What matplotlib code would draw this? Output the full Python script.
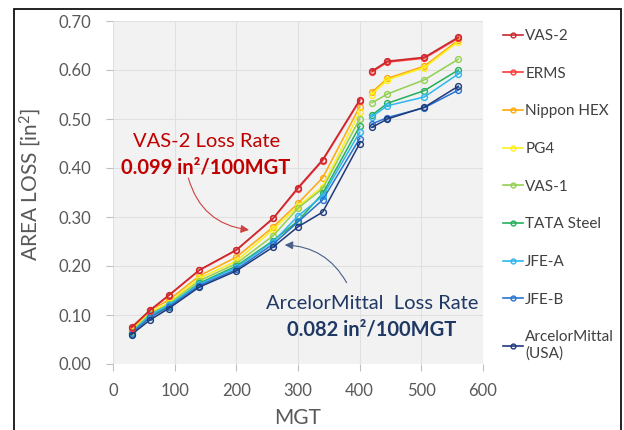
import matplotlib
matplotlib.use("Agg")
import matplotlib.pyplot as plt
from matplotlib.patches import Rectangle

plt.rcParams['font.family'] = ['Lato', 'DejaVu Sans']
plt.rcParams['mathtext.fontset'] = 'custom'
plt.rcParams['mathtext.rm'] = 'Lato'
plt.rcParams['mathtext.default'] = 'regular'

mgt = [30, 60, 90, 140, 200, 260, 300, 340, 400, 420, 445, 505, 560]
break_idx = 9  # lines are interrupted between 400 and 420 MGT

series_names = ['VAS-2', 'ERMS', 'Nippon HEX', 'PG4', 'VAS-1', 'TATA Steel',
                'JFE-A', 'JFE-B', 'ArcelorMittal\n(USA)']
vas2 = [0.075, 0.110, 0.140, 0.192, 0.233, 0.298, 0.360, 0.417, 0.539, 0.598, 0.618, 0.626, 0.667]
erms = [0.074, 0.109, 0.139, 0.191, 0.232, 0.297, 0.358, 0.415, 0.537, 0.596, 0.616, 0.624, 0.665]
nippon = [0.070, 0.110, 0.130, 0.180, 0.218, 0.280, 0.328, 0.380, 0.525, 0.555, 0.583, 0.608, 0.661]
pg4 = [0.068, 0.105, 0.125, 0.175, 0.210, 0.275, 0.322, 0.362, 0.514, 0.550, 0.580, 0.605, 0.658]
vas1 = [0.066, 0.102, 0.122, 0.170, 0.205, 0.262, 0.318, 0.358, 0.500, 0.533, 0.551, 0.580, 0.622]
tata = [0.064, 0.098, 0.118, 0.165, 0.200, 0.252, 0.292, 0.348, 0.485, 0.508, 0.532, 0.558, 0.600]
jfea = [0.063, 0.100, 0.120, 0.163, 0.197, 0.250, 0.302, 0.343, 0.473, 0.505, 0.527, 0.545, 0.592]
jfeb = [0.062, 0.095, 0.116, 0.160, 0.193, 0.245, 0.290, 0.335, 0.460, 0.490, 0.503, 0.523, 0.559]
arcelor = [0.060, 0.090, 0.113, 0.157, 0.190, 0.239, 0.280, 0.310, 0.450, 0.483, 0.500, 0.524, 0.567]
series_values = [vas2, erms, nippon, pg4, vas1, tata, jfea, jfeb, arcelor]
colors = ['#C8282E', '#FF3A3A', '#FFA90A', '#FFEF1A', '#92D050', '#22B05A',
          '#2DB6F0', '#2874D0', '#1F3A7A']
zorders = [12, 11, 3, 4, 5, 6, 7, 8, 9]

yticks = [0.0, 0.1, 0.2, 0.3, 0.4, 0.5, 0.6, 0.7]
xticks = [0, 100, 200, 300, 400, 500, 600]

W, H = 624, 430
fig = plt.figure(figsize=(W / 100, H / 100), dpi=100)
ax = fig.add_axes([113 / W, 1 - 364 / H, 370 / W, 343 / H])
ax.set_facecolor('#F2F2F2')

for name, vals, c, z in zip(series_names, series_values, colors, zorders):
    kw = dict(color=c, lw=1.1, marker='o', ms=4.2, mfc='none', mew=1.0, zorder=z)
    ax.plot(mgt[:break_idx], vals[:break_idx], label=name, **kw)
    ax.plot(mgt[break_idx:], vals[break_idx:], **kw)

ax.set_xlim(0, 600)
ax.set_ylim(0, 0.7)
ax.set_xticks(xticks)
ax.set_yticks(yticks)
ax.set_yticklabels([f'{v:.2f}' for v in yticks])
for s in ax.spines.values():
    s.set_visible(False)
ax.grid(True, color='#E0E0E0', lw=0.8)
ax.set_axisbelow(True)
ax.tick_params(colors='#BFBFBF', labelcolor='#595959', labelsize=12, length=5, width=0.8)
ax.tick_params(axis='y', pad=11)
ax.tick_params(axis='x', pad=9)

ax.set_xlabel('MGT', fontsize=15, color='#595959', va='top')
ax.set_ylabel('AREA LOSS [in$^{2}$]', fontsize=15, color='#595959')
ax.xaxis.set_label_coords(0.5, -0.127)
ax.yaxis.set_label_coords(-0.19, 0.522)

# annotations
red = '#C00000'
navy = '#1F3864'
ax.text(152, 0.455, 'VAS-2 Loss Rate', color=red, fontsize=14.5, ha='center', va='center')
ax.text(151, 0.402, '0.099 in²/100MGT', color=red, fontsize=14.5, fontweight='bold',
        ha='center', va='center')
ax.annotate('', xy=(225, 0.273), xytext=(121, 0.385),
            arrowprops=dict(arrowstyle='-|>', color='#D04040', lw=0.8,
                            connectionstyle='arc3,rad=0.35', mutation_scale=12))
ax.text(420, 0.124, 'ArcelorMittal  Loss Rate', color=navy, fontsize=14.5, ha='center', va='center')
ax.text(420, 0.071, '0.082 in²/100MGT', color=navy, fontsize=14.5, fontweight='bold',
        ha='center', va='center')
ax.annotate('', xy=(274, 0.243), xytext=(381, 0.161),
            arrowprops=dict(arrowstyle='-|>', color='#4A6088', lw=0.8,
                            connectionstyle='arc3,rad=0.3', mutation_scale=12))

leg = ax.legend(loc='upper left', bbox_to_anchor=(503 / W, 1 - 29 / H),
                bbox_transform=fig.transFigure, frameon=False, fontsize=11,
                labelspacing=1.55, handlelength=1.3, handletextpad=0.15,
                borderpad=0, borderaxespad=0)
for t in leg.get_texts():
    t.set_color('#404040')
for h in leg.legend_handles:
    h.set_markersize(3.5)
    h.set_linewidth(1.2)

# outer frame
fig.add_artist(Rectangle((14 / W, -0.1), (621 - 14) / W, 1.1 - 9 / H,
                         transform=fig.transFigure, fill=False, ec='#111111', lw=1.3))

fig.savefig('out.png', dpi=100)
